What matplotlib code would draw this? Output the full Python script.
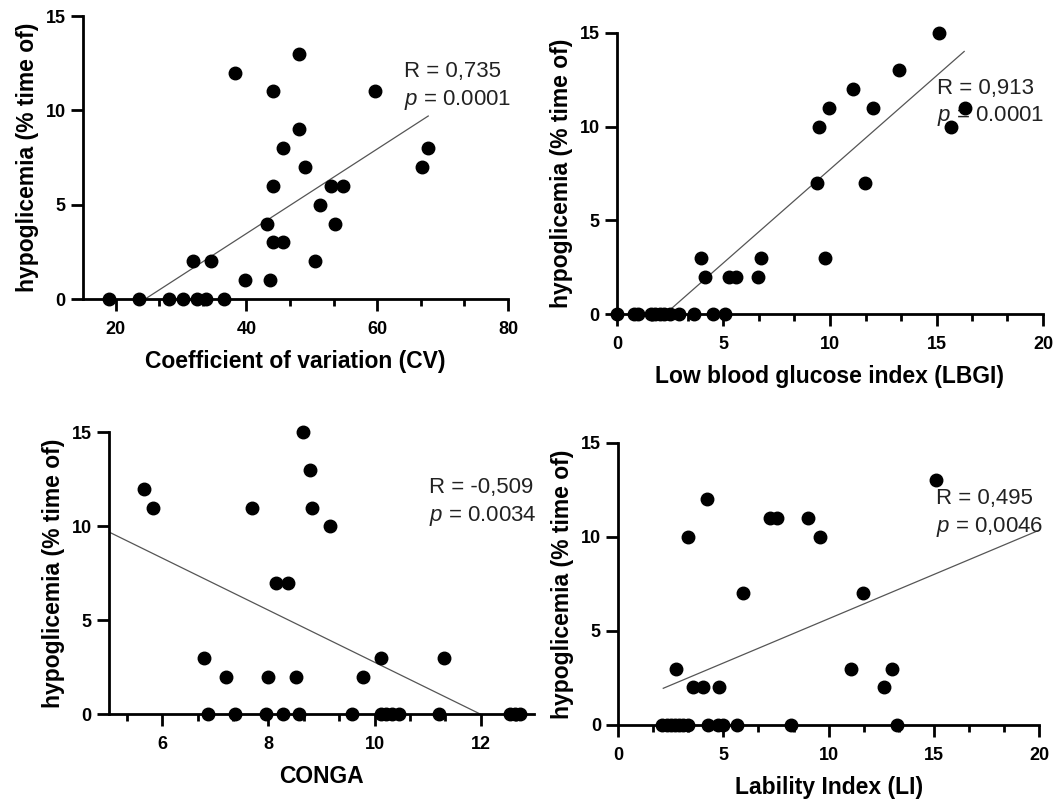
import numpy as np
import matplotlib
matplotlib.use("Agg")
import matplotlib.pyplot as plt
from matplotlib.ticker import FixedLocator

plt.rcParams['font.family'] = ['Liberation Sans', 'DejaVu Sans']
plt.rcParams['mathtext.fontset'] = 'custom'
plt.rcParams['mathtext.rm'] = 'Liberation Sans'
plt.rcParams['mathtext.it'] = 'Liberation Sans:italic'

# --- data ---
cv_x = [19.0, 23.6, 28.2, 30.3, 32.5, 33.8, 36.6, 31.8, 34.5, 38.2, 39.8, 43.6,
        43.2, 44.0, 45.6, 44.1, 44.1, 45.6, 48.1, 48.1, 49.0, 50.5, 51.3, 53.0,
        53.5, 54.7, 59.7, 66.9, 67.7]
cv_y = [0, 0, 0, 0, 0, 0, 0, 2, 2, 12, 1, 1,
        4, 3, 3, 6, 11, 8, 13, 9, 7, 2, 5, 6,
        4, 6, 11, 7, 8]
cv_fit_x = [24.5, 67.8]
cv_fit_y = [0.0, 9.7]

lbgi_x = [0.0, 0.8, 1.0, 1.6, 1.8, 2.0, 2.2, 2.5, 2.9, 3.6, 4.5, 5.05,
          3.95, 4.15, 5.25, 5.6, 6.6, 6.77, 9.38, 9.5, 9.94, 9.75, 11.1, 11.65,
          12.03, 13.26, 15.13, 15.69, 16.35]
lbgi_y = [0, 0, 0, 0, 0, 0, 0, 0, 0, 0, 0, 0,
          3, 2, 2, 2, 2, 3, 7, 10, 11, 3, 12, 7,
          11, 13, 15, 10, 11]
lbgi_fit_x = [2.57, 16.3]
lbgi_fit_y = [0.32, 14.0]

conga_x = [5.65, 5.82, 6.78, 6.87, 7.21, 7.38, 7.70, 7.95, 7.99, 8.14, 8.37, 8.28,
           8.53, 8.57, 8.65, 8.79, 8.83, 9.17, 9.58, 9.79, 10.13, 10.12, 10.22, 10.32,
           10.46, 11.22, 11.30, 12.55, 12.65, 12.73]
conga_y = [12, 11, 3, 0, 2, 0, 11, 0, 2, 7, 7, 0,
           2, 0, 15, 13, 11, 10, 0, 2, 3, 0, 0, 0,
           0, 0, 3, 0, 0, 0]
conga_fit_x = [5.0, 12.0]
conga_fit_y = [9.7, 0.0]

li_x = [2.1, 2.3, 2.5, 2.7, 2.9, 3.1, 3.3, 4.28, 4.75, 4.96, 5.63, 8.2,
        13.23, 2.73, 3.57, 4.04, 4.79, 3.33, 4.23, 5.91, 7.2, 7.55, 9.0, 9.59,
        11.06, 11.65, 12.63, 13.03, 15.1]
li_y = [0, 0, 0, 0, 0, 0, 0, 0, 0, 0, 0, 0,
        0, 3, 2, 2, 2, 10, 12, 7, 11, 11, 11, 10,
        3, 7, 2, 3, 13]
li_fit_x = [2.14, 19.9]
li_fit_y = [1.95, 10.3]

ylabel = 'hypoglicemia (% time of)'


def draw_panel(ax, x, y, fit_x, fit_y, xlim, majors, minors, xlabel,
               r_txt, p_txt, txt_x):
    ax.plot(fit_x, fit_y, color='#555555', lw=0.9, zorder=2)
    ax.plot(x, y, 'o', color='black', markersize=9, clip_on=False, zorder=4)
    ax.set_xlim(*xlim)
    ax.set_ylim(0, 15)
    ax.set_yticks([0, 5, 10, 15])
    ax.set_xticks(majors)
    ax.xaxis.set_minor_locator(FixedLocator(minors))
    for s in ('top', 'right'):
        ax.spines[s].set_visible(False)
    for s in ('left', 'bottom'):
        ax.spines[s].set_linewidth(2.0)
    ax.tick_params(which='major', direction='out', length=8.5, width=2.0,
                   labelsize=13)
    ax.tick_params(which='minor', direction='out', length=5, width=2.0)
    ax.tick_params(axis='x', which='major', pad=7)
    ax.tick_params(axis='y', which='major', pad=4)
    for lab in ax.get_xticklabels() + ax.get_yticklabels():
        lab.set_fontweight('bold')
    ax.set_xlabel(xlabel, fontsize=16.5, fontweight='bold', labelpad=9)
    ax.set_ylabel(ylabel, fontsize=16.5, fontweight='bold', labelpad=5)
    ax.text(txt_x, 11.75, r_txt, fontsize=16, color='#222222', va='baseline')
    ax.text(txt_x, 10.27, p_txt, fontsize=16, color='#222222', va='baseline')


fig = plt.figure(figsize=(10.59, 8.01), dpi=100)

ax1 = fig.add_axes([0.0784, 0.6267, 0.4013, 0.3533])
draw_panel(ax1, cv_x, cv_y, cv_fit_x, cv_fit_y, (15, 80), [20, 40, 60, 80],
           [26.667, 33.333, 46.667, 53.333, 66.667, 73.333],
           'Coefficient of variation (CV)', 'R = 0,735', r'$p$ = 0.0001', 64.1)

ax2 = fig.add_axes([0.5826, 0.6076, 0.4023, 0.3516])
draw_panel(ax2, lbgi_x, lbgi_y, lbgi_fit_x, lbgi_fit_y, (0, 20), [0, 5, 10, 15, 20],
           [1.667, 3.333, 6.667, 8.333, 11.667, 13.333, 16.667, 18.333],
           'Low blood glucose index (LBGI)', 'R = 0,913', r'$p$ = 0.0001', 15.0)

ax3 = fig.add_axes([0.1029, 0.1082, 0.4013, 0.352])
draw_panel(ax3, conga_x, conga_y, conga_fit_x, conga_fit_y, (5, 13), [6, 8, 10, 12],
           [5.333, 6.667, 7.333, 8.667, 9.333, 10.667, 11.333, 12.667],
           'CONGA', 'R = -0,509', r'$p$ = 0.0034', 11.02)

ax4 = fig.add_axes([0.5838, 0.0949, 0.3973, 0.3524])
draw_panel(ax4, li_x, li_y, li_fit_x, li_fit_y, (0, 20), [0, 5, 10, 15, 20],
           [1.667, 3.333, 6.667, 8.333, 11.667, 13.333, 16.667, 18.333],
           'Lability Index (LI)', 'R = 0,495', r'$p$ = 0,0046', 15.1)

fig.savefig('out.png', dpi=100)
